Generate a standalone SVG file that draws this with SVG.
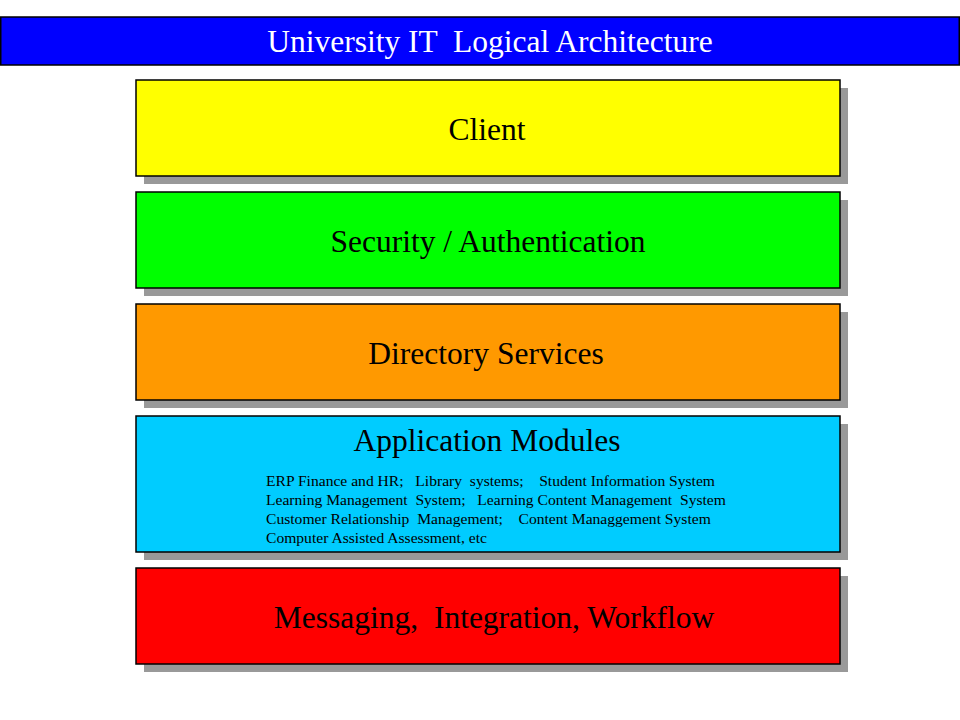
<svg xmlns="http://www.w3.org/2000/svg" width="960" height="720" viewBox="0 0 960 720">
<style>
.sh{fill:#999999;stroke:none}
.bx{stroke:#000;stroke-width:1.5}
.t{font-family:"Liberation Serif","Times New Roman",serif;text-anchor:middle;fill:#000}
.big{font-size:31.5px}
.sm{font-family:"Liberation Serif","Times New Roman",serif;font-size:15.6px;fill:#000}
</style>
<rect x="0" y="0" width="960" height="720" fill="#fff"/>
<g id="title">
<rect x="0.75" y="17" width="958.5" height="48" fill="#0000ff" stroke="#000" stroke-width="1.5"/>
<text class="t" x="490" y="52" font-size="31.5" style="fill:#fff" xml:space="preserve">University IT  Logical Architecture</text>
</g>
<g id="client">
<rect class="sh" x="144" y="88" width="704" height="96"/>
<rect class="bx" x="136" y="80" width="704" height="96" fill="#ffff00"/>
<text class="t big" x="487" y="140">Client</text>
</g>
<g id="security">
<rect class="sh" x="144" y="200" width="704" height="96"/>
<rect class="bx" x="136" y="192" width="704" height="96" fill="#00ff00"/>
<text class="t big" x="488" y="252">Security / Authentication</text>
</g>
<g id="directory">
<rect class="sh" x="144" y="312" width="704" height="96"/>
<rect class="bx" x="136" y="304" width="704" height="96" fill="#ff9900"/>
<text class="t big" x="486" y="364">Directory Services</text>
</g>
<g id="application">
<rect class="sh" x="144" y="424" width="704" height="136"/>
<rect class="bx" x="136" y="416" width="704" height="136" fill="#00ccff"/>
<text class="t big" x="487" y="451">Application Modules</text>
<text class="sm" x="266" y="486" xml:space="preserve">ERP Finance and HR;   Library  systems;    Student Information System</text>
<text class="sm" x="266" y="505" xml:space="preserve">Learning Management  System;   Learning Content Management  System</text>
<text class="sm" x="266" y="524" xml:space="preserve">Customer Relationship  Management;    Content Managgement System</text>
<text class="sm" x="266" y="543" xml:space="preserve">Computer Assisted Assessment, etc</text>
</g>
<g id="messaging">
<rect class="sh" x="144" y="576" width="704" height="96"/>
<rect class="bx" x="136" y="568" width="704" height="96" fill="#ff0000"/>
<text class="t big" x="494" y="628" xml:space="preserve">Messaging,  Integration, Workflow</text>
</g>
<g id="connectors"></g>
</svg>
